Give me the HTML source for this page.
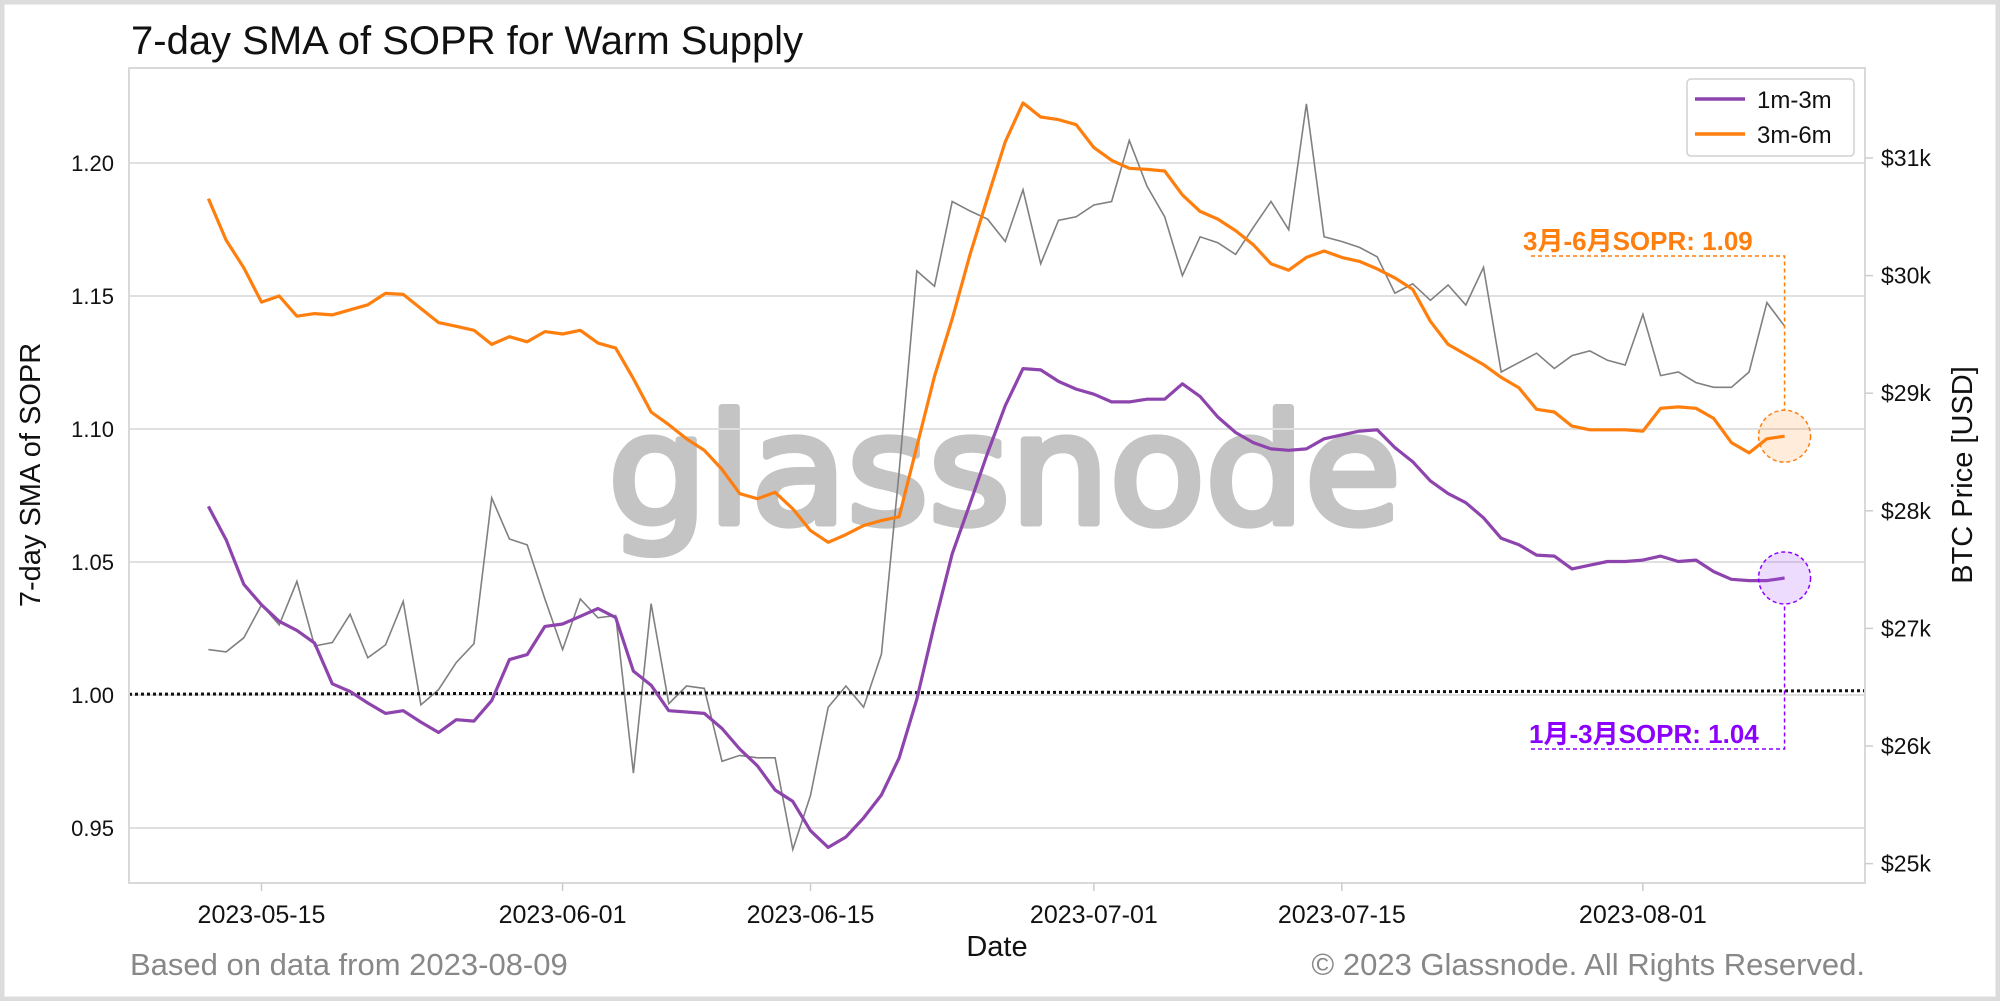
<!DOCTYPE html>
<html><head><meta charset="utf-8"><style>
html,body{margin:0;padding:0;background:#fff}
svg{display:block}
text{font-family:"Liberation Sans","DejaVu Sans","Noto Sans CJK SC",sans-serif}
</style></head><body>
<svg id="chart" width="2000" height="1001" viewBox="0 0 2000 1001" xmlns="http://www.w3.org/2000/svg">
<rect x="2" y="2" width="1996" height="997" fill="#fff" stroke="#dcdcdc" stroke-width="5"/>
<text x="131" y="54" font-size="40" fill="#111">7-day SMA of SOPR for Warm Supply</text>
<text x="608" y="523" font-size="152" fill="#c4c4c4" stroke="#c4c4c4" stroke-width="7" stroke-linejoin="round" textLength="793" lengthAdjust="spacingAndGlyphs" style="font-family:'DejaVu Sans',sans-serif">glassnode</text>
<g id="grid"></g>
<g id="marks"></g>
<rect x="129" y="68" width="1736" height="815" fill="none" stroke="#d9d9d9" stroke-width="2"/>
<g id="axes"></g>
<text x="40" y="475" font-size="29" fill="#111" text-anchor="middle" transform="rotate(-90 40 475)">7-day SMA of SOPR</text>
<text x="1972" y="475" font-size="29" fill="#111" text-anchor="middle" transform="rotate(-90 1972 475)">BTC Price [USD]</text>
<text x="997" y="956" font-size="29" fill="#111" text-anchor="middle">Date</text>
<text x="130" y="975" font-size="31" fill="#888">Based on data from 2023-08-09</text>
<text x="1865" y="975" font-size="31" fill="#888" text-anchor="end">© 2023 Glassnode. All Rights Reserved.</text>
<g>
<rect x="1687" y="79" width="167" height="77" rx="4" fill="#fff" stroke="#d0d0d0" stroke-width="1.5"/>
<line x1="1695" y1="99" x2="1745" y2="99" stroke="#8e44ad" stroke-width="3.5"/>
<text x="1757" y="108" font-size="24" fill="#111">1m-3m</text>
<line x1="1695" y1="134" x2="1745" y2="134" stroke="#ff7f0e" stroke-width="3.5"/>
<text x="1757" y="143" font-size="24" fill="#111">3m-6m</text>
</g>
</svg>
<script>
const dayOffsets = Array.from({length:90},(_,i)=>i-3);
const sopr3m6m = [1.1866,1.171,1.1606,1.1477,1.150,1.1424,1.1434,1.1429,1.1448,1.1467,1.151,1.1506,1.1453,1.140,1.1386,1.1371,1.1318,1.1347,1.1328,1.1366,1.1357,1.1371,1.1323,1.1304,1.1189,1.1064,1.1016,1.0963,1.092,1.0848,1.0757,1.0738,1.0762,1.07,1.0618,1.0574,1.0603,1.0637,1.0656,1.067,1.0934,1.1198,1.1414,1.1654,1.187,1.208,1.2226,1.2173,1.2163,1.2144,1.2058,1.201,1.198,1.1976,1.197,1.188,1.1818,1.1789,1.1746,1.1693,1.1621,1.1597,1.1645,1.1669,1.1645,1.163,1.1602,1.1568,1.1525,1.1405,1.1318,1.128,1.1242,1.1194,1.1155,1.1074,1.1064,1.1011,1.0997,1.0997,1.0997,1.0992,1.1078,1.1083,1.1078,1.104,1.0949,1.091,1.0963,1.0973];
const sopr1m3m = [1.0709,1.0584,1.0416,1.0339,1.0277,1.0243,1.0195,1.0042,1.0013,0.997,0.9931,0.9941,0.9898,0.9859,0.9907,0.9902,0.9979,1.0133,1.0152,1.0258,1.0267,1.0296,1.0325,1.0291,1.009,1.0037,0.9941,0.9936,0.9931,0.9874,0.9797,0.9734,0.9643,0.96,0.949,0.9427,0.9466,0.9538,0.9624,0.9763,0.9984,1.0267,1.0531,1.0718,1.091,1.1088,1.1227,1.1222,1.1179,1.115,1.1131,1.1102,1.1102,1.1112,1.1112,1.117,1.1122,1.1045,1.0987,1.0949,1.0925,1.092,1.0925,1.0963,1.0978,1.0992,1.0997,1.093,1.0877,1.0805,1.0757,1.0723,1.0666,1.0589,1.0565,1.0526,1.0522,1.0474,1.0488,1.0502,1.0502,1.0507,1.0522,1.0502,1.0507,1.0464,1.0435,1.043,1.043,1.044];
const btcPriceK = [26.82,26.80,26.92,27.20,27.03,27.40,26.85,26.88,27.12,26.75,26.86,27.23,26.35,26.48,26.71,26.87,28.11,27.76,27.71,27.25,26.82,27.25,27.09,27.11,25.77,27.21,26.36,26.51,26.49,25.87,25.92,25.90,25.90,25.12,25.58,26.33,26.51,26.33,26.78,28.33,30.04,29.91,30.63,30.55,30.48,30.29,30.73,30.10,30.47,30.50,30.60,30.63,31.15,30.76,30.50,30.00,30.33,30.28,30.18,30.41,30.63,30.39,31.46,30.33,30.29,30.24,30.16,29.85,29.93,29.79,29.92,29.75,30.07,29.18,29.26,29.34,29.21,29.32,29.36,29.28,29.24,29.67,29.15,29.18,29.09,29.05,29.05,29.18,29.77,29.57];
const leftTicks = [1.20,1.15,1.10,1.05,1.00,0.95];
const rightTicks = [31,30,29,28,27,26,25];
const xTickLabels = ["2023-05-15","2023-06-01","2023-06-15","2023-07-01","2023-07-15","2023-08-01"];
const xTickDays = [0,17,31,47,61,78];
const baselineValues = [1.0003,1.0016];

const NS="http://www.w3.org/2000/svg";
const xS = d => 261.5 + d*17.71;
const yL = v => 163 + (1.20 - v)/0.05*133;
const yR = k => 158 + (31 - k)*117.6;
function mk(tag, attrs, parent){const e=document.createElementNS(NS,tag);for(const k in attrs)e.setAttribute(k,attrs[k]);parent.appendChild(e);return e;}
const grid=document.getElementById('grid'), marks=document.getElementById('marks'), axes=document.getElementById('axes');

leftTicks.forEach(v=>{
  const g=mk('line',{x1:129,x2:1865,y1:yL(v),y2:yL(v),stroke:'#e0e0e0','stroke-width':2},grid);
  
  
  const t=mk('text',{x:114,y:yL(v)+8,'font-size':22,'text-anchor':'end',fill:'#111'},axes);
  t.textContent=v.toFixed(2);
  
  
});
rightTicks.forEach(k=>{
  const l=mk('line',{x1:1865,x2:1873,y1:yR(k),y2:yR(k),stroke:'#ccc','stroke-width':1.5},axes);
  
  
  const t=mk('text',{x:1881,y:yR(k)+8,'font-size':23,fill:'#111'},axes);
  t.textContent='$'+k+'k';
  
  
});
xTickDays.forEach((d,i)=>{
  const l=mk('line',{x1:xS(d),x2:xS(d),y1:883,y2:891,stroke:'#ccc','stroke-width':1.5},axes);
  
  
  const t=mk('text',{x:xS(d),y:923,'font-size':25,'text-anchor':'middle',fill:'#111'},axes);
  t.textContent=xTickLabels[i];
  
  
});
function path(vals, yf){return vals.map((v,i)=>(i?'L':'M')+xS(dayOffsets[i]).toFixed(1)+' '+yf(v).toFixed(1)).join(' ');}
const price=mk('path',{d:path(btcPriceK,yR),fill:'none',stroke:'#808080','stroke-width':1.6},marks);


const base=mk('line',{x1:129,x2:1865,y1:yL(baselineValues[0]),y2:yL(baselineValues[1]),stroke:'#111','stroke-width':3,'stroke-dasharray':'3 3'},marks);


const o=mk('path',{d:path(sopr3m6m,yL),fill:'none',stroke:'#ff7f0e','stroke-width':3.2,'stroke-linejoin':'round'},marks);


const p=mk('path',{d:path(sopr1m3m,yL),fill:'none',stroke:'#8e44ad','stroke-width':3.2,'stroke-linejoin':'round'},marks);



const lx=xS(dayOffsets[89]);
const oy=yL(sopr3m6m[89]), py=yL(sopr1m3m[89]);
const oc=mk('circle',{cx:lx,cy:oy,r:26,fill:'rgba(255,127,14,0.15)',stroke:'#ff7f0e','stroke-width':1.5,'stroke-dasharray':'4 3'},marks);


const pc=mk('circle',{cx:lx,cy:py,r:26,fill:'rgba(170,80,255,0.2)',stroke:'#8b00ff','stroke-width':1.5,'stroke-dasharray':'4 3'},marks);


const ol=mk('path',{d:`M1531 256 L${lx} 256 L${lx} ${oy-26}`,fill:'none',stroke:'#ff7f0e','stroke-width':1.5,'stroke-dasharray':'4 3'},marks);


const pl=mk('path',{d:`M1531 749 L${lx} 749 L${lx} ${py+26}`,fill:'none',stroke:'#8b00ff','stroke-width':1.5,'stroke-dasharray':'4 3'},marks);


const ot=mk('text',{x:1523,y:250,'font-size':26,'font-weight':'bold',fill:'#ff7f0e'},marks);
ot.textContent='3月-6月SOPR: 1.09';


const pt=mk('text',{x:1529,y:743,'font-size':26,'font-weight':'bold',fill:'#8b00ff'},marks);
pt.textContent='1月-3月SOPR: 1.04';


</script>
</body></html>
